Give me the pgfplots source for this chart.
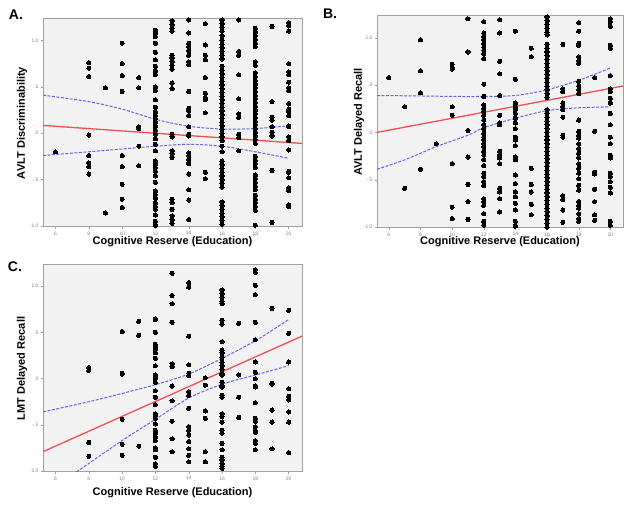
\documentclass[border=0pt]{standalone}
\usepackage{pgfplots}
\pgfplotsset{compat=1.18}
\usepackage{fontspec}
\setmainfont{Liberation Sans}
\definecolor{bgray}{RGB}{242,242,242}
\definecolor{fgray}{RGB}{160,160,160}
\definecolor{rline}{RGB}{240,80,80}
\definecolor{bline}{RGB}{100,100,240}
\pgfplotsset{
  panel/.style={
    scale only axis, anchor=south west,
    xmin=5.25, xmax=20.8, ymin=-1.01, ymax=1.23,
    axis background/.style={fill=bgray},
    axis line style={fgray, line width=1pt},
    xtick={6,8,...,20}, ytick={-1,-0.5,0,0.5,1},
    yticklabels={-1.0,-.5,.0,.5,1.0},
    tick align=outside, xtick pos=bottom, ytick pos=left,
    major tick length=2pt, tick style={fgray, line width=0.4pt},
    /pgf/number format/assume math mode=true,
    tick label style={font=\fontsize{5}{5}\selectfont, text=gray},
    label style={font=\fontsize{11}{12}\selectfont\bfseries},
    xticklabel style={yshift=1pt}, yticklabel style={xshift=1pt},
  },
  pts/.style={only marks, mark=*, mark size=2.1pt, black, mark options={line width=0pt}},
  reg/.style={rline, line width=1.3pt, no marks},
  ci/.style={bline, line width=1pt, dashed, dash pattern=on 3pt off 1.5pt, no marks, smooth},
}
\begin{document}
\begin{tikzpicture}
\useasboundingbox (0pt,0pt) rectangle (632pt,505pt);
% ---------------- Panel A ----------------
\begin{axis}[panel, at={(43pt,278pt)}, width=259pt, height=208pt,
  xlabel={Cognitive Reserve (Education)}, ylabel={AVLT Discriminability},
  xlabel style={at={(axis description cs:0.5,-0.072)}, anchor=center},
  ylabel style={at={(axis description cs:-0.081,0.5)}, anchor=center}]
\addplot[pts] coordinates {
(6,-0.20)
(8,0.76)(8,0.70)(8,0.61)(8,-0.02)(8,-0.24)(8,-0.32)(8,-0.36)(8,-0.44)
(9,0.49)(9,-0.86)
(10,0.97)(10,0.75)(10,0.62)(10,0.45)(10,-0.24)(10,-0.36)(10,-0.55)(10,-0.71)(10,-0.80)
(11,0.60)(11,0.49)(11,0.07)(11,0.05)(11,-0.14)(11,-0.35)
(12,1.11)(12,1.08)(12,1.04)(12,0.97)(12,0.87)(12,0.79)(12,0.72)(12,0.67)(12,0.63)(12,0.50)(12,0.46)(12,0.36)(12,0.28)(12,0.23)(12,0.19)(12,0.16)(12,0.12)(12,0.08)(12,0.03)(12,-0.01)(12,-0.06)(12,-0.12)(12,-0.19)(12,-0.30)(12,-0.33)(12,-0.37)(12,-0.41)(12,-0.46)(12,-0.53)(12,-0.62)(12,-0.66)(12,-0.70)(12,-0.75)(12,-0.79)(12,-0.82)(12,-0.88)(12,-0.95)(12,-0.99)
(13,1.21)(13,1.17)(13,1.13)(13,1.10)(13,0.84)(13,0.81)(13,0.77)(13,0.73)(13,0.69)(13,0.54)(13,0.48)(13,-0.01)(13,-0.04)(13,-0.19)(13,-0.22)(13,-0.26)(13,-0.71)(13,-0.75)(13,-0.82)(13,-0.89)(13,-0.93)(13,-0.97)
(14,1.22)(14,1.08)(14,0.97)(14,0.93)(14,0.89)(14,0.84)(14,0.77)(14,0.74)(14,0.45)(14,0.27)(14,0.24)(14,0.19)(14,0.07)(14,-0.01)(14,-0.03)(14,-0.21)(14,-0.24)(14,-0.28)(14,-0.32)(14,-0.33)(14,-0.44)(14,-0.61)(14,-0.72)(14,-0.93)
(15,1.18)(15,0.95)(15,0.84)(15,0.79)(15,0.60)(15,0.43)(15,0.38)(15,0.36)(15,0.22)(15,-0.42)(15,-0.49)
(16,1.22)(16,1.18)(16,1.14)(16,1.10)(16,1.05)(16,1.00)(16,0.96)(16,0.92)(16,0.88)(16,0.84)(16,0.80)(16,0.72)(16,0.68)(16,0.64)(16,0.60)(16,0.56)(16,0.52)(16,0.48)(16,0.44)(16,0.40)(16,0.36)(16,0.32)(16,0.28)(16,0.24)(16,0.20)(16,0.16)(16,0.12)(16,0.08)(16,0.04)(16,0.00)(16,-0.04)(16,-0.08)(16,-0.14)(16,-0.20)(16,-0.30)(16,-0.34)(16,-0.38)(16,-0.42)(16,-0.46)(16,-0.50)(16,-0.54)(16,-0.58)(16,-0.74)(16,-0.78)(16,-0.82)(16,-0.86)(16,-0.90)(16,-0.94)(16,-0.98)
(17,1.22)(17,0.88)(17,0.84)(17,0.63)(17,0.37)(17,0.21)(17,0.17)(17,-0.01)(17,-0.05)(17,-0.19)
(18,1.13)(18,1.09)(18,1.05)(18,1.01)(18,0.97)(18,0.93)(18,0.77)(18,0.73)(18,0.65)(18,0.61)(18,0.57)(18,0.53)(18,0.49)(18,0.45)(18,0.41)(18,0.37)(18,0.33)(18,0.29)(18,0.25)(18,0.21)(18,0.17)(18,0.13)(18,0.09)(18,0.05)(18,0.01)(18,-0.03)(18,-0.07)(18,-0.11)(18,-0.25)(18,-0.29)(18,-0.33)(18,-0.37)(18,-0.45)(18,-0.49)(18,-0.53)(18,-0.57)(18,-0.61)(18,-0.67)(18,-0.71)(18,-0.75)(18,-0.79)(18,-0.83)(18,-0.99)
(19,1.15)(19,0.34)(19,0.17)(19,0.14)(19,0.07)(19,0.01)(19,-0.03)(19,-0.40)(19,-0.96)
(20,1.19)(20,1.16)(20,1.10)(20,0.75)(20,0.66)(20,0.63)(20,0.55)(20,0.49)(20,0.46)(20,0.32)(20,0.26)(20,0.23)(20,0.19)(20,0.08)(20,0.07)(20,-0.04)(20,-0.08)(20,-0.18)(20,-0.41)(20,-0.42)(20,-0.48)(20,-0.59)(20,-0.62)(20,-0.77)(20,-0.79)
};
\addplot[reg] coordinates {(5.25,0.084)(20.8,-0.11)};
\addplot[ci] coordinates {(5.25,0.41)(8,0.34)(10,0.26)(12,0.15)(14,0.075)(16,0.045)(18,0.05)(20,0.08)};
\addplot[ci] coordinates {(5.25,-0.24)(8,-0.20)(10,-0.17)(12,-0.14)(14,-0.12)(16,-0.14)(18,-0.20)(20,-0.27)};
\end{axis}
% ---------------- Panel B ----------------
\begin{axis}[panel, at={(377pt,277pt)}, width=246pt, height=212pt,
  xlabel={Cognitive Reserve (Education)}, ylabel={AVLT Delayed Recall},
  xlabel style={at={(axis description cs:0.5,-0.066)}, anchor=center},
  ylabel style={at={(axis description cs:-0.073,0.5)}, anchor=center}]
\addplot[pts] coordinates {
(6,0.58)
(7,0.27)(7,-0.59)
(8,0.98)(8,0.65)(8,0.42)(8,-0.39)
(9,-0.12)
(10,0.72)(10,0.69)(10,0.67)(10,0.27)(10,0.18)(10,-0.33)(10,-0.79)(10,-0.91)
(11,1.20)(11,0.85)(11,0.02)(11,-0.26)(11,-0.55)(11,-0.73)(11,-0.92)
(12,1.17)(12,1.05)(12,1.01)(12,0.98)(12,0.94)(12,0.90)(12,0.87)(12,0.83)(12,0.78)(12,0.51)(12,0.38)(12,0.29)(12,0.25)(12,0.22)(12,0.18)(12,0.13)(12,0.08)(12,0.04)(12,-0.01)(12,-0.05)(12,-0.08)(12,-0.12)(12,-0.15)(12,-0.20)(12,-0.24)(12,-0.29)(12,-0.35)(12,-0.43)(12,-0.47)(12,-0.52)(12,-0.56)(12,-0.70)(12,-0.73)(12,-0.77)(12,-0.86)(12,-0.94)(12,-0.98)
(13,1.19)(13,1.05)(13,0.75)(13,0.62)(13,0.39)(13,0.18)(13,0.10)(13,0.08)(13,-0.20)(13,-0.24)(13,-0.27)(13,-0.33)(13,-0.59)(13,-0.63)(13,-0.70)(13,-0.84)
(14,1.07)(14,0.56)(14,0.31)(14,0.27)(14,0.24)(14,0.20)(14,0.15)(14,0.10)(14,0.04)(14,-0.05)(14,-0.08)(14,-0.14)(14,-0.26)(14,-0.29)(14,-0.45)(14,-0.54)(14,-0.63)(14,-0.68)(14,-0.75)(14,-0.82)(14,-0.94)(14,-0.99)
(15,0.89)(15,0.80)(15,-0.38)(15,-0.55)(15,-0.63)(15,-0.76)(15,-0.87)
(16,1.22)(16,1.18)(16,1.14)(16,1.10)(16,1.06)(16,1.03)(16,0.93)(16,0.89)(16,0.85)(16,0.81)(16,0.77)(16,0.73)(16,0.69)(16,0.65)(16,0.61)(16,0.57)(16,0.53)(16,0.49)(16,0.45)(16,0.41)(16,0.37)(16,0.24)(16,0.20)(16,0.16)(16,0.12)(16,0.08)(16,0.04)(16,0.00)(16,-0.04)(16,-0.08)(16,-0.12)(16,-0.16)(16,-0.20)(16,-0.24)(16,-0.28)(16,-0.32)(16,-0.36)(16,-0.40)(16,-0.44)(16,-0.48)(16,-0.52)(16,-0.56)(16,-0.60)(16,-0.64)(16,-0.68)(16,-0.72)(16,-0.76)(16,-0.80)(16,-0.84)(16,-0.88)(16,-0.92)(16,-0.96)(16,-1.00)
(17,0.93)(17,0.46)(17,0.43)(17,0.31)(17,0.27)(17,0.24)(17,0.16)(17,-0.03)(17,-0.05)(17,-0.67)(17,-0.71)(17,-0.82)(17,-0.95)
(18,1.16)(18,1.07)(18,0.94)(18,0.92)(18,0.80)(18,0.76)(18,0.73)(18,0.54)(18,0.49)(18,0.45)(18,0.41)(18,0.13)(18,0.01)(18,-0.03)(18,-0.06)(18,-0.12)(18,-0.17)(18,-0.22)(18,-0.27)(18,-0.33)(18,-0.38)(18,-0.43)(18,-0.49)(18,-0.56)(18,-0.61)(18,-0.73)(18,-0.77)(18,-0.80)(18,-0.86)(18,-0.91)(18,-0.94)
(19,0.58)(19,0.01)(19,-0.42)(19,-0.44)(19,-0.60)(19,-0.73)(19,-0.87)(19,-0.93)
(20,1.20)(20,1.17)(20,1.12)(20,0.92)(20,0.89)(20,0.60)(20,0.46)(20,0.43)(20,0.36)(20,0.31)(20,0.20)(20,0.08)(20,-0.05)(20,-0.12)(20,-0.24)(20,-0.27)(20,-0.43)(20,-0.47)(20,-0.52)(20,-0.58)(20,-0.64)(20,-0.94)(20,-0.98)
};
\addplot[reg] coordinates {(5.25,0.0)(20.8,0.49)};
\addplot[ci] coordinates {(5.25,0.39)(8,0.385)(10,0.38)(12,0.38)(14,0.39)(16,0.45)(18,0.55)(20,0.68)};
\addplot[ci] coordinates {(5.25,-0.39)(7,-0.29)(9,-0.15)(11,-0.03)(12,0.05)(14,0.15)(16,0.23)(18,0.26)(20,0.27)};
\end{axis}
% ---------------- Panel C ----------------
\begin{axis}[panel, at={(43pt,33pt)}, width=259pt, height=207pt,
  xlabel={Cognitive Reserve (Education)}, ylabel={LMT Delayed Recall},
  xlabel style={at={(axis description cs:0.5,-0.10)}, anchor=center},
  ylabel style={at={(axis description cs:-0.081,0.5)}, anchor=center}]
\addplot[pts] coordinates {
(8,0.12)(8,0.09)(8,-0.69)(8,-0.84)
(10,0.51)(10,0.06)(10,0.05)(10,-0.44)(10,-0.71)(10,-0.83)
(11,0.62)(11,0.47)(11,-0.73)
(12,0.65)(12,0.64)(12,0.50)(12,0.37)(12,0.34)(12,0.32)(12,0.28)(12,0.22)(12,0.14)(12,0.04)(12,0.01)(12,-0.04)(12,-0.13)(12,-0.20)(12,-0.28)(12,-0.38)(12,-0.40)(12,-0.43)(12,-0.49)(12,-0.56)(12,-0.59)(12,-0.63)(12,-0.67)(12,-0.75)(12,-0.77)(12,-0.85)(12,-0.92)(12,-0.95)
(13,1.14)(13,0.90)(13,0.81)(13,0.61)(13,0.16)(13,0.13)(13,-0.08)(13,-0.24)(13,-0.46)(13,-0.65)(13,-0.79)
(14,1.04)(14,0.99)(14,0.46)(14,0.15)(14,0.06)(14,0.03)(14,-0.14)(14,-0.18)(14,-0.32)(14,-0.52)(14,-0.56)(14,-0.61)(14,-0.68)(14,-0.76)(14,-0.83)(14,-0.90)
(15,0.01)(15,-0.07)(15,-0.35)(15,-0.43)(15,-0.79)(15,-0.90)
(16,0.96)(16,0.92)(16,0.88)(16,0.84)(16,0.81)(16,0.63)(16,0.59)(16,0.40)(16,0.31)(16,0.28)(16,0.23)(16,0.18)(16,0.14)(16,0.10)(16,0.06)(16,0.04)(16,-0.04)(16,-0.07)(16,-0.09)(16,-0.18)(16,-0.20)(16,-0.38)(16,-0.41)(16,-0.47)(16,-0.56)(16,-0.59)(16,-0.70)(16,-0.77)(16,-0.85)(16,-0.88)(16,-0.92)(16,-0.95)(16,-0.97)
(17,0.60)(17,0.04)(17,-0.20)(17,-0.42)
(18,1.18)(18,1.15)(18,1.01)(18,0.91)(18,0.61)(18,0.42)(18,0.18)(18,0.07)(18,0.00)(18,-0.08)(18,-0.09)(18,-0.26)(18,-0.43)(18,-0.46)(18,-0.52)(18,-0.56)(18,-0.58)(18,-0.67)(18,-0.70)(18,-0.77)
(19,0.76)(19,-0.05)(19,-0.06)(19,-0.34)(19,-0.47)(19,-0.76)
(20,0.74)(20,0.49)(20,0.18)(20,-0.11)(20,-0.19)(20,-0.23)(20,-0.36)(20,-0.47)(20,-0.80)
};
\addplot[reg] coordinates {(5.25,-0.79)(20.8,0.46)};
\addplot[ci] coordinates {(5.25,-0.36)(8,-0.25)(10,-0.16)(12,-0.065)(14,0.05)(16,0.22)(18,0.41)(20,0.64)};
\addplot[ci] coordinates {(7.26,-1.01)(10,-0.67)(12,-0.44)(14,-0.21)(16,-0.06)(18,0.04)(20,0.14)};
\end{axis}
\node[font=\fontsize{14}{14}\selectfont\bfseries] at (16pt,490pt) {A.};
\node[font=\fontsize{14}{14}\selectfont\bfseries] at (330pt,491pt) {B.};
\node[font=\fontsize{14}{14}\selectfont\bfseries] at (15pt,238pt) {C.};
\end{tikzpicture}
\end{document}
